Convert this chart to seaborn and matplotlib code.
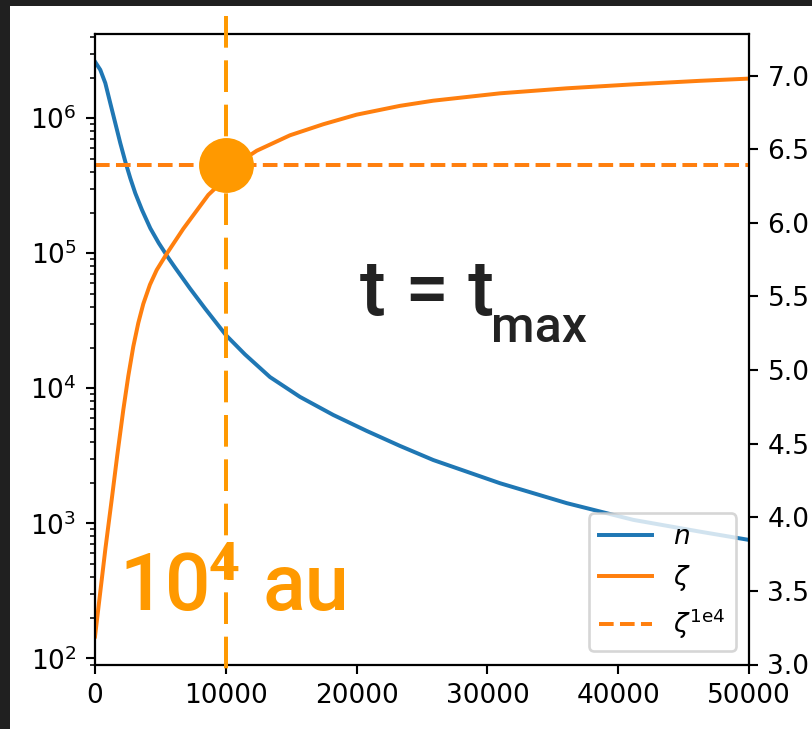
import matplotlib
matplotlib.use("Agg")
import matplotlib.pyplot as plt
from matplotlib.patches import Rectangle
import numpy as np
import pandas as pd
import seaborn as sns

# radius grid (au) and number density n along it
radius_n = [0, 405, 787, 1170, 1552, 1934, 2316, 2699, 3081, 3593, 4228, 4870,
            5634, 6139, 7263, 8410, 10000, 11468, 13379, 15672, 18218, 20772,
            23317, 25863, 30963, 36062, 41153, 46252, 50000]
density_n = [2.62e6, 2.28e6, 1.82e6, 1.29e6, 9.18e5, 6.53e5, 4.77e5, 3.59e5,
             2.78e5, 2.09e5, 1.53e5, 1.19e5, 9.15e4, 7.78e4, 5.48e4, 3.90e4,
             2.48e4, 1.78e4, 1.21e4, 8.63e3, 6.34e3, 4.83e3, 3.74e3, 2.94e3,
             1.98e3, 1.41e3, 1.06e3, 867, 753]

# radius grid (au) and zeta along it
radius_z = [0, 400, 800, 1277, 1700, 2164, 2546, 2928, 3310, 3693, 4200, 4717,
            5481, 6751, 8662, 11850, 12362, 14908, 17454, 20000, 23317, 25863,
            30962, 36062, 41153, 46252, 50000]
zeta = [3.19, 3.49, 3.79, 4.12, 4.42, 4.73, 4.96, 5.16, 5.32, 5.45, 5.58, 5.68,
        5.79, 5.96, 6.19, 6.46, 6.49, 6.595, 6.67, 6.735, 6.795, 6.83, 6.88,
        6.914, 6.941, 6.965, 6.98]

# reference radius and zeta value there
r_ref = 10000
zeta_ref = 6.39

legend_labels = ["$n$", r"$\zeta$", r"$\zeta^{\mathrm{1e4}}$"]

W, H, DPI = 812, 729, 190
fig = plt.figure(figsize=(W / DPI, H / DPI), dpi=DPI, facecolor="#202020")
fig.patches.append(Rectangle((10 / W, 0), 1 - 10 / W, 1 - 6 / H,
                             transform=fig.transFigure, facecolor="white",
                             edgecolor="none", zorder=-10))

def fpos(x, y):
    return x / W, 1 - y / H

ax = fig.add_axes([95 / W, (H - 664.5) / H, 654 / W, 630.5 / H])
ax.set_facecolor("white")

df_n = pd.DataFrame({"r": radius_n, "n": density_n})
df_z = pd.DataFrame({"r": radius_z, "zeta": zeta})

sns.lineplot(data=df_n, x="r", y="n", ax=ax, color="#1f77b4", lw=1.5,
             estimator=None, sort=False)
ax.set_yscale("log")
ax.set_xlim(0, 50000)
ax.set_ylim(90, 4.2e6)
ax.set_xlabel("")
ax.set_ylabel("")

ax2 = ax.twinx()
sns.lineplot(data=df_z, x="r", y="zeta", ax=ax2, color="#ff7f0e", lw=1.5,
             estimator=None, sort=False)
ax2.set_ylim(3.0, 7.283)
ax2.set_yticks(np.arange(3.0, 7.01, 0.5))
ax2.set_ylabel("")
ax2.axhline(zeta_ref, color="#ff7f0e", ls="--", lw=1.5)

vline, = ax2.plot([r_ref, r_ref], [1.029, -0.0246], color="#ff9900", lw=1.5,
                  transform=ax2.get_xaxis_transform(), clip_on=False,
                  dashes=(8, 3.2), zorder=3)
ax2.plot([r_ref], [zeta_ref], "o", color="#ff9900", ms=20.8, mec="none",
         zorder=5)

h_n = ax.get_lines()[0]
h_z = ax2.get_lines()[0]
h_ref = ax2.get_lines()[1]
ax2.legend([h_n, h_z, h_ref], legend_labels, loc="lower right")

# annotations
fig.text(*fpos(360, 315), "t = t", fontfamily="Roboto", fontweight="medium",
         fontsize=29.5, color="#222222", va="baseline", ha="left")
fig.text(*fpos(491, 341.7), "max", fontfamily="Roboto", fontweight="medium",
         fontsize=19, color="#222222", va="baseline", ha="left")
fig.text(*fpos(119, 610), "10", fontfamily="Roboto", fontweight="medium",
         fontsize=30.5, color="#ff9900", va="baseline", ha="left")
fig.text(*fpos(209, 580), "4", fontfamily="Roboto", fontweight="medium",
         fontsize=20.5, color="#ff9900", va="baseline", ha="left")
fig.text(*fpos(262, 610), "au", fontfamily="Roboto", fontweight="medium",
         fontsize=30, color="#ff9900", va="baseline", ha="left")

fig.savefig("out.png", dpi=DPI, facecolor=fig.get_facecolor())
